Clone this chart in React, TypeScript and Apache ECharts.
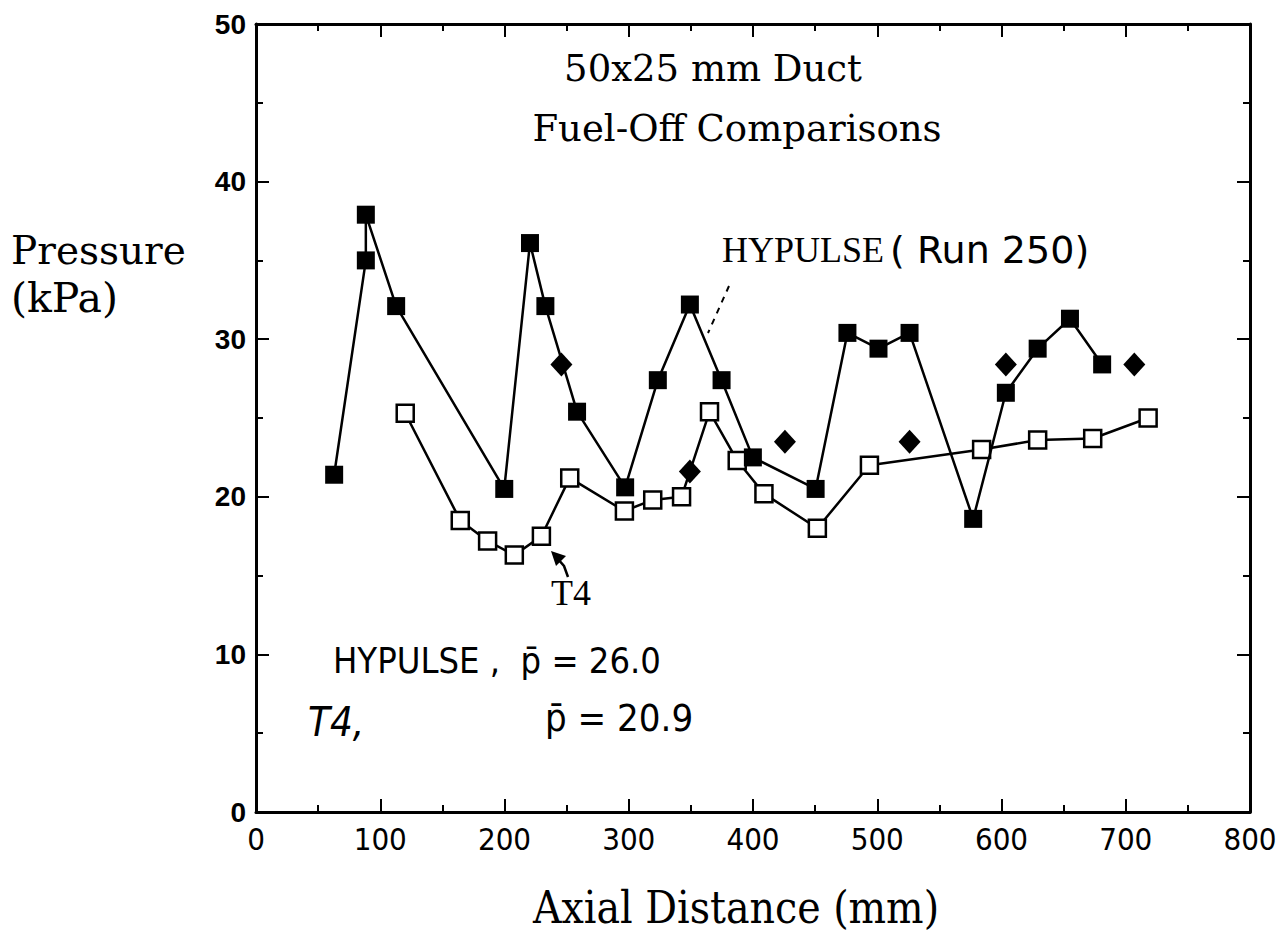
import React, { useEffect, useRef } from "react";
import * as echarts from "echarts";

// HYPULSE (Run 250) – filled squares, connected
const hypulseX = [62.9, 88.4, 88.4, 112.8, 199.8, 220.5, 232.9, 258.4, 297.1, 323.4, 349.2, 374.7, 399.9, 450.4, 476, 501, 526, 577.2, 603.5, 629.1, 655.1, 681];
const hypulseP = [21.4, 35.0, 37.9, 32.1, 20.5, 36.1, 32.1, 25.4, 20.6, 27.4, 32.2, 27.4, 22.5, 20.5, 30.4, 29.4, 30.4, 18.6, 26.6, 29.4, 31.3, 28.4];

// T4 – open squares, connected
const t4X = [120.1, 164.4, 186.4, 207.9, 229.7, 252.5, 296.5, 319.3, 342.5, 365, 387.3, 408.8, 451.8, 493.7, 584, 629.1, 673.4, 718];
const t4P = [25.3, 18.5, 17.2, 16.3, 17.5, 21.2, 19.1, 19.8, 20.0, 25.4, 22.3, 20.2, 18.0, 22.0, 23.0, 23.6, 23.7, 25.0];

// HYPULSE – additional points, diamonds, unconnected
const diamondX = [245.8, 349.2, 425.7, 526, 603.5, 706.9];
const diamondP = [28.4, 21.6, 23.5, 23.5, 28.4, 28.4];

const xTicks = [0, 100, 200, 300, 400, 500, 600, 700, 800];
const yTicks = [0, 10, 20, 30, 40, 50];

const pair = (xs: number[], ys: number[]) => xs.map((x, i) => [x, ys[i]]);

export default function App() {
  const ref = useRef<HTMLDivElement>(null);
  useEffect(() => {
    if (!ref.current) return;
    const chart = echarts.init(ref.current, null, { renderer: "svg" });
    const axisLine = () => ({ show: true, onZero: false, lineStyle: { color: "#000", width: 3 } });
    const tick = () => ({ show: true, inside: true, length: 13, lineStyle: { color: "#000", width: 2 } });
    const minor = () => ({ show: true, splitNumber: 2, length: 7, lineStyle: { color: "#000", width: 2 } });
    const serif = "DejaVu Serif";
    chart.setOption({
      animation: false,
      backgroundColor: "#fff",
      grid: { left: 256, top: 24, right: 37, bottom: 121, containLabel: false },
      xAxis: [
        {
          type: "value", position: "bottom", min: xTicks[0], max: xTicks[xTicks.length - 1], interval: 100,
          axisLine: axisLine(), axisTick: tick(), minorTick: minor(), splitLine: { show: false }, minorSplitLine: { show: false },
          axisLabel: { color: "#000", fontFamily: "DejaVu Sans Condensed", fontSize: 31, margin: 11 },
        },
        {
          type: "value", position: "top", min: 0, max: 800, interval: 100,
          axisLine: axisLine(), axisTick: tick(), minorTick: minor(), splitLine: { show: false }, axisLabel: { show: false },
        },
      ],
      yAxis: [
        {
          type: "value", position: "left", min: yTicks[0], max: yTicks[yTicks.length - 1], interval: 10,
          axisLine: axisLine(), axisTick: tick(), minorTick: minor(), splitLine: { show: false },
          axisLabel: { color: "#000", fontFamily: "Liberation Sans", fontWeight: "bold", fontSize: 28, margin: 10 },
        },
        {
          type: "value", position: "right", min: 0, max: 50, interval: 10,
          axisLine: axisLine(), axisTick: tick(), minorTick: minor(), splitLine: { show: false }, axisLabel: { show: false },
        },
      ],
      series: [
        {
          type: "line", name: "T4", data: pair(t4X, t4P), symbol: "rect", symbolSize: 17,
          showSymbol: true, lineStyle: { color: "#000", width: 2.5 },
          itemStyle: { color: "#fff", borderColor: "#000", borderWidth: 2.5 }, z: 2,
        },
        {
          type: "line", name: "HYPULSE", data: pair(hypulseX, hypulseP), symbol: "rect", symbolSize: 18,
          showSymbol: true, lineStyle: { color: "#000", width: 2.5 },
          itemStyle: { color: "#000", borderColor: "#000", borderWidth: 0 }, z: 3,
        },
        {
          type: "scatter", name: "HYPULSE extra", data: pair(diamondX, diamondP), symbol: "diamond",
          symbolSize: [22, 24], itemStyle: { color: "#000", opacity: 1 }, z: 4,
        },
      ],
      graphic: [
        { type: "text", x: 713, y: 68, style: { text: "50x25 mm Duct", font: `37px '${serif}'`, fill: "#000", align: "center", verticalAlign: "middle" } },
        { type: "text", x: 737, y: 128, style: { text: "Fuel-Off Comparisons", font: `37px '${serif}'`, fill: "#000", align: "center", verticalAlign: "middle" } },
        { type: "text", x: 11, y: 250, style: { text: "Pressure", font: `39px '${serif}'`, fill: "#000", align: "left", verticalAlign: "middle" } },
        { type: "text", x: 11, y: 298, style: { text: "(kPa)", font: `41px '${serif}'`, fill: "#000", align: "left", verticalAlign: "middle" } },
        { type: "text", x: 736, y: 907, style: { text: "Axial Distance (mm)", font: `44px 'DejaVu Serif Condensed'`, fill: "#000", align: "center", verticalAlign: "middle" } },
        { type: "text", x: 722, y: 250, style: { text: "HYPULSE", font: `36px 'Liberation Serif'`, fill: "#000", align: "left", verticalAlign: "middle" } },
        { type: "text", x: 890, y: 250, style: { text: "( Run 250)", font: `38px 'DejaVu Sans'`, fill: "#000", align: "left", verticalAlign: "middle" } },
        { type: "line", shape: { x1: 729, y1: 286, x2: 708, y2: 333 }, style: { stroke: "#000", lineWidth: 2, lineDash: [6, 6] } },
        { type: "text", x: 571, y: 593, style: { text: "T4", font: `36px 'Liberation Serif'`, fill: "#000", align: "center", verticalAlign: "middle" } },
        { type: "polyline", shape: { points: [[568, 577], [564, 566], [557, 558]] }, style: { stroke: "#000", lineWidth: 2.5, fill: "none" } },
        { type: "polygon", shape: { points: [[551, 551], [566, 556], [556, 566]] }, style: { fill: "#000" } },
        { type: "text", x: 333, y: 660, style: { text: "HYPULSE ,  p\u0304 = 26.0", font: `36px 'DejaVu Sans Condensed'`, fill: "#000", align: "left", verticalAlign: "middle" } },
        { type: "text", x: 308, y: 722, style: { text: "T4,", font: `italic 40px 'DejaVu Sans Condensed'`, fill: "#000", align: "left", verticalAlign: "middle" } },
        { type: "text", x: 545, y: 718, style: { text: "p\u0304 = 20.9", font: `38px 'DejaVu Sans Condensed'`, fill: "#000", align: "left", verticalAlign: "middle" } },
      ],
    });
    return () => chart.dispose();
  }, []);
  return <div ref={ref} style={{ position: "fixed", left: 0, top: 0, width: 1287, height: 933 }} />;
}
